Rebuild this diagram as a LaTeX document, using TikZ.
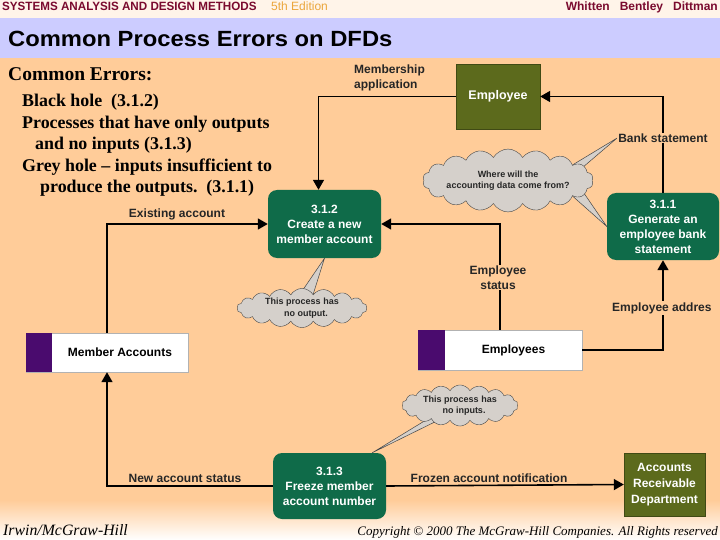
\documentclass[tikz,border=0pt]{standalone}
\usepackage{fontspec}
\setmainfont{Liberation Serif}
\setsansfont{Liberation Sans}
\usetikzlibrary{arrows.meta,shapes.symbols}
\definecolor{peach}{HTML}{FFCC99}
\definecolor{lav}{HTML}{CCCCFF}
\definecolor{procgreen}{HTML}{0F6B49}
\definecolor{olivebox}{HTML}{5C6A1C}
\definecolor{storepurple}{HTML}{4A0B6E}
\definecolor{cloudfill}{HTML}{D5D0CB}
\definecolor{hdrmaroon}{HTML}{7A0A2E}
\definecolor{edgold}{HTML}{EBA63C}
\pgfdeclarelayer{back}
\pgfdeclarelayer{tails}
\pgfsetlayers{back,tails,main}
\tikzset{
  flow/.style={line width=1.6pt, -{Triangle[length=10pt,width=11pt]}},
  proc/.style={rounded corners=9pt, fill=procgreen, text=white, align=center,
    font=\fontsize{12}{15}\selectfont\sffamily\bfseries, inner sep=2pt},
  entity/.style={fill=olivebox, draw=olivebox!70!black, text=white, align=center,
    font=\fontsize{12.5}{16}\selectfont\sffamily\bfseries, inner sep=2pt},
  store/.style={fill=white, draw=gray!60, text=black,
    font=\fontsize{12}{15}\selectfont\sffamily\bfseries, inner sep=0pt},
  lbl/.style={font=\fontsize{12}{15}\selectfont\sffamily\bfseries, text=black!85, align=center, inner sep=1pt},
  cloudnode/.style={cloud, cloud puffs=18, cloud puff arc=120, draw=gray!55!black, fill=cloudfill,
    text=black!85, align=center, font=\fontsize{9}{11.5}\selectfont\sffamily\bfseries, inner sep=-2pt},
  tail/.style={fill=cloudfill, draw=gray!55!black, line width=0.5pt},
  errtxt/.style={anchor=base west, inner sep=0pt, font=\fontsize{17.9}{20}\selectfont\rmfamily\bfseries}
}
\begin{document}
\begin{tikzpicture}[x=1pt,y=-1pt]
\useasboundingbox (0,0) rectangle (720,540);
\begin{pgfonlayer}{back}
  \fill[peach!22] (0,0) rectangle (720,18);
  \fill[lav] (0,18) rectangle (720,58);
  \fill[peach] (0,58) rectangle (720,500);
  \shade[top color=peach, bottom color=white] (0,500) rectangle (720,540);
\end{pgfonlayer}

% header
\node[anchor=base west, inner sep=0pt, font=\fontsize{12}{12}\selectfont\sffamily\bfseries, text=hdrmaroon] (hdr) at (2,11) {\scalebox{0.97}[1]{SYSTEMS ANALYSIS AND DESIGN METHODS}};
\node[anchor=base west, inner sep=0pt, font=\fontsize{12}{12}\selectfont\sffamily, text=edgold] (ed) at (271,11) {5th Edition};
\node[anchor=base east, inner sep=0pt, font=\fontsize{12}{12}\selectfont\sffamily\bfseries, text=hdrmaroon] (auth) at (718,11) {Whitten\ \ \ Bentley\ \ \ Dittman};
% title
\node[anchor=base west, inner sep=0pt, font=\fontsize{22}{24}\selectfont\sffamily\bfseries] (title) at (8,47) {\scalebox{1.08}[1]{Common Process Errors on DFDs}};

% error text
\node[errtxt, font=\fontsize{19.5}{22}\selectfont\rmfamily\bfseries] (t0) at (8,81) {Common Errors:};
\node[errtxt] (t1) at (22,107) {Black hole\ \ (3.1.2)};
\node[errtxt] (t2) at (22,128.5) {Processes that have only outputs};
\node[errtxt] (t3) at (35,150) {and no inputs (3.1.3)};
\node[errtxt] (t4) at (22,171.5) {Grey hole -- inputs insufficient to};
\node[errtxt] (t5) at (40,193) {produce the outputs.\ \ (3.1.1)};

% nodes
\node[entity, minimum width=84pt, minimum height=65pt] (emp) at (498,96.5) {Employee};
\node[proc, minimum width=113pt, minimum height=68pt] (p312) at (324.5,224) {3.1.2\\Create a new\\member account};
\node[proc, minimum width=112pt, minimum height=67pt] (p311) at (663,226.5) {3.1.1\\Generate an\\employee bank\\statement};
\node[proc, minimum width=113pt, minimum height=66pt] (p313) at (329.5,486) {3.1.3\\Freeze member\\account number};
\node[entity, minimum width=81pt, minimum height=63pt, font=\fontsize{12}{16}\selectfont\sffamily\bfseries] (ard) at (664.5,484.5) {Accounts\\Receivable\\Department};
\node[store, minimum width=162pt, minimum height=39pt] (ma) at (107,352.5) {\hspace*{26pt}Member Accounts};
\fill[storepurple] (ma.north west) rectangle ([xshift=26pt]ma.south west);
\node[store, minimum width=164pt, minimum height=40pt] (es) at (500,350) {\hspace*{27pt}Employees};
\fill[storepurple] (es.north west) rectangle ([xshift=27pt]es.south west);

% flows
\draw[flow] (emp.west) -| ([xshift=-6pt]p312.north);
\draw[flow] (p311.north) |- (emp.east);
\draw[flow] (ma.north) |- (p312.west);
\draw[flow] (es.north) |- (p312.east);
\draw[flow] (es.east) -| (p311.south);
\draw[flow] (p313.west) -| (ma.south);
\draw[flow] (p313.east) -- (ard.west);

% labels
\node[lbl, anchor=west, align=left] (lma) at (353,77.5) {Membership\\application};
\node[lbl, fill=peach] (lbs) at (663,138) {Bank statement};
\node[lbl] (lea) at (177,214) {Existing account};
\node[lbl, fill=peach] (les) at (498,277.5) {Employee\\status};
\node[lbl, fill=peach, anchor=west] (lead) at (611,308) {Employee addres};
\node[lbl] (lnas) at (185,478) {New account status};
\node[lbl] (lfan) at (489,478) {Frozen account notification};

% callouts
\node[cloudnode, aspect=3.6, minimum width=162pt, minimum height=45pt] (c1) at (508,180.5) {Where will the\\accounting data come from?};
\node[cloudnode, aspect=3.3, minimum width=130pt, minimum height=38pt] (c2) at (302,308) {This process has\\\hspace*{8pt}no output.};
\node[cloudnode, aspect=3.1, minimum width=116pt, minimum height=38pt] (c3) at (460,405.5) {This process has\\\hspace*{8pt}no inputs.};
\begin{pgfonlayer}{tails}
  \filldraw[tail] ([shift={(52,-8)}]c1.center) -- (lbs.west) -- ([shift={(64,-4)}]c1.center) -- cycle;
  \filldraw[tail] ([shift={(56,8)}]c1.center) -- (p311.west) -- ([shift={(70,4)}]c1.center) -- cycle;
  \filldraw[tail] ([shift={(-6,-8)}]c2.center) -- (p312.south) -- ([shift={(10,-10)}]c2.center) -- cycle;
  \filldraw[tail] ([shift={(-20,6)}]c3.center) -- ([xshift=-14pt]p313.north east) -- ([shift={(-8,8)}]c3.center) -- cycle;
\end{pgfonlayer}

% footer
\node[anchor=base west, inner sep=0pt, font=\fontsize{15.8}{16}\selectfont\rmfamily\itshape] (irw) at (3,535) {Irwin/McGraw-Hill};
\node[anchor=base east, inner sep=0pt, font=\fontsize{13}{14}\selectfont\rmfamily\itshape] (copy) at (718,535) {Copyright \textcopyright{} 2000 The McGraw-Hill Companies. All Rights reserved};
\end{tikzpicture}
\end{document}
